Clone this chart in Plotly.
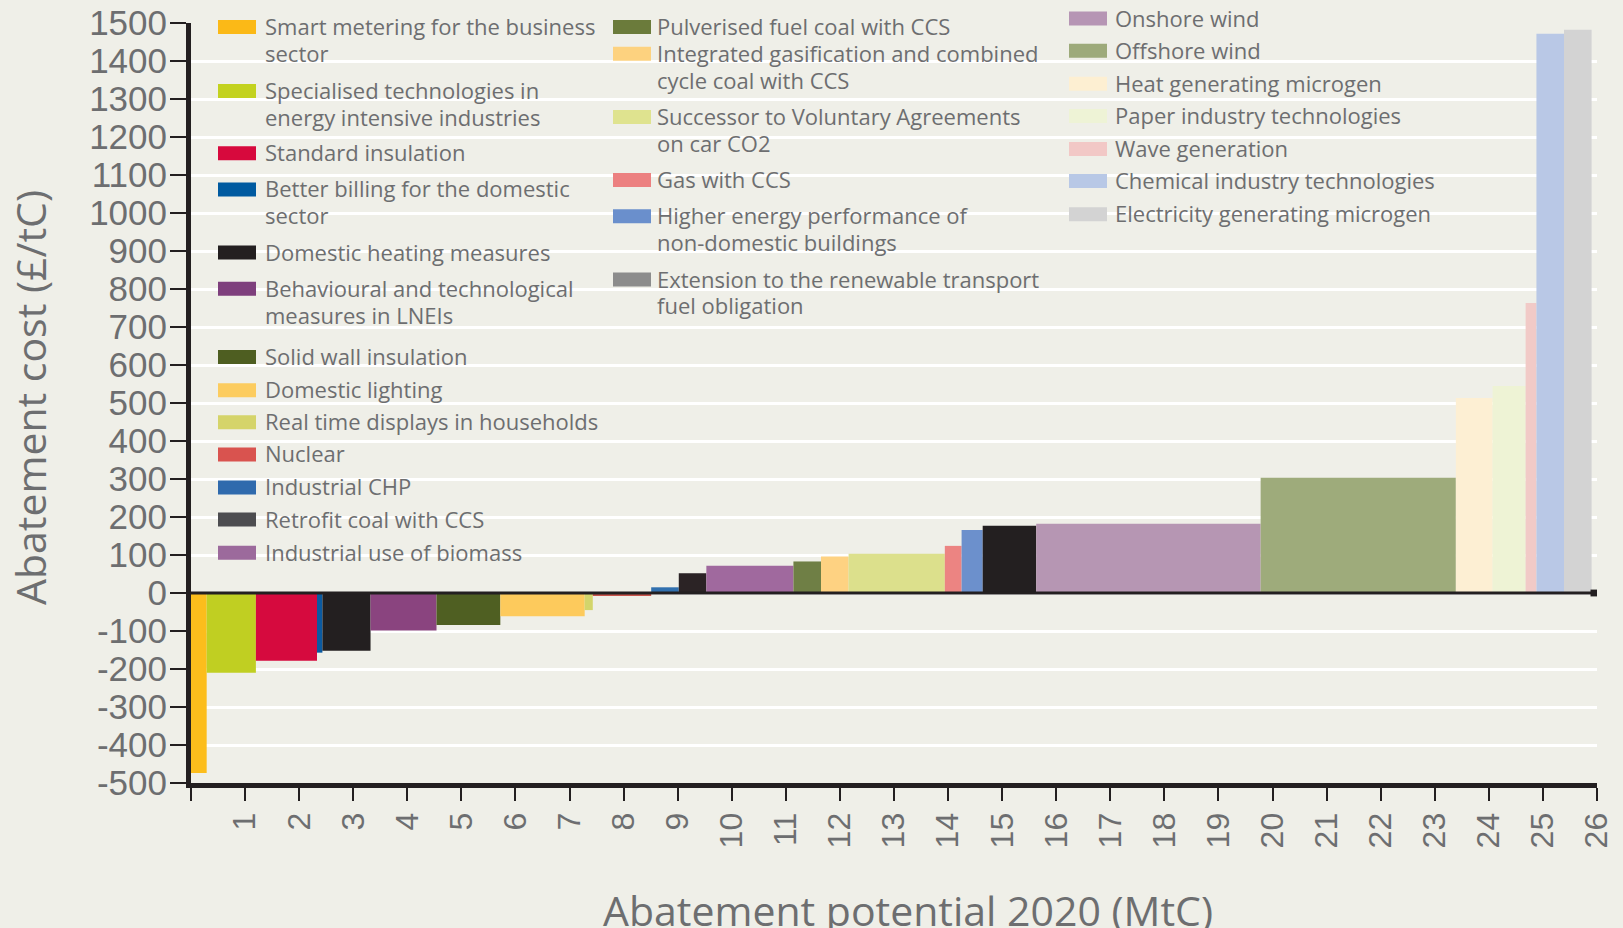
import numpy as np
import plotly.graph_objects as go

# ---------------- data ----------------
measures = [
    "Smart metering for the business<br>sector",
    "Specialised technologies in<br>energy intensive industries",
    "Standard insulation",
    "Better billing for the domestic<br>sector",
    "Domestic heating measures",
    "Behavioural and technological<br>measures in LNEIs",
    "Solid wall insulation",
    "Domestic lighting",
    "Real time displays in households",
    "Nuclear",
    "Industrial CHP",
    "Retrofit coal with CCS",
    "Industrial use of biomass",
    "Pulverised fuel coal with CCS",
    "Integrated gasification and combined<br>cycle coal with CCS",
    "Successor to Voluntary Agreements<br>on car CO2",
    "Gas with CCS",
    "Higher energy performance of<br>non-domestic buildings",
    "Extension to the renewable transport<br>fuel obligation",
    "Onshore wind",
    "Offshore wind",
    "Heat generating microgen",
    "Paper industry technologies",
    "Wave generation",
    "Chemical industry technologies",
    "Electricity generating microgen",
]
# abatement potential 2020 (MtC) = bar widths
potential = [0.29, 0.91, 1.13, 0.10, 0.89, 1.22, 1.18, 1.56, 0.15, 1.08,
             0.51, 0.51, 1.61, 0.51, 0.51, 1.78, 0.31, 0.39, 0.99, 4.15,
             3.61, 0.68, 0.61, 0.20, 0.51, 0.51]
# abatement cost (GBP/tC) = bar heights
cost = [-474, -210, -178, -157, -152, -99, -84, -61, -45, -8,
        15, 52, 72, 83, 96, 103, 124, 166, 177, 182,
        303, 513, 545, 763, 1472, 1482]

bar_colors = ["#fcbd1c", "#c0cf22", "#d60a3e", "#0b5aa0", "#231f20", "#8a447f",
              "#4f5f22", "#fdca5c", "#d3d56b", "#c9544c", "#3170ae", "#2b2325",
              "#a0699e", "#6f7f45", "#fed282", "#dce08c", "#ec8482", "#6c90cc",
              "#231f20", "#b696b3", "#9eab7b", "#fdefd3", "#eef3d5", "#f1cac7",
              "#b9c8e6", "#d3d3d3"]
legend_colors = ["#fbb917", "#c3d21f", "#d7093d", "#005aa0", "#231f20", "#7e3f7d",
                 "#4e5e21", "#fccc5f", "#d5d46a", "#d9534f", "#2f6aad", "#4d4d50",
                 "#9c6a9c", "#6b7b3b", "#fdd27f", "#dfe38f", "#ec8080", "#6a8fcc",
                 "#8c8c8c", "#b695b4", "#9daa7a", "#fdefd2", "#eef3d6", "#f2c8c6",
                 "#b8c8e6", "#d3d3d3"]

x_ticks = list(range(0, 27))
x_tick_labels = [""] + [str(i) for i in range(1, 27)]
y_ticks = list(range(-500, 1501, 100))
y_tick_labels = [str(v) for v in y_ticks]

# ---------------- layout constants ----------------
W, H = 1623, 928
L, R, T, B = 191, 26, 23, 145
PW, PH = W - L - R, H - T - B
BG = "#efefe8"
TXT = "#6d6e70"
INK = "#231f20"


def px2x(px):
    return (px - L) / PW


def px2y(py):
    return (H - B - py) / PH


# ---------------- bars ----------------
widths = np.array(potential)
lefts = np.concatenate([[0.0], np.cumsum(widths)[:-1]])
centers = lefts + widths / 2

fig = go.Figure()
fig.add_trace(go.Bar(
    x=centers, y=cost, width=widths,
    marker=dict(color=bar_colors, line=dict(width=0)),
    hovertext=[m.replace("<br>", " ") for m in measures],
    hoverinfo="text+y",
    showlegend=False,
))

shapes = []
annotations = []

# zero line and end marker
shapes.append(dict(type="line", xref="x", yref="y", x0=0, x1=26, y0=0, y1=0,
                   line=dict(color=INK, width=3), layer="above"))
shapes.append(dict(type="rect", xref="x", yref="y", x0=25.88, x1=26.03, y0=-9, y1=9,
                   fillcolor=INK, line=dict(width=0), layer="above"))

# ---------------- manual legend (3 columns) ----------------
DY = -1
columns = [
    dict(idx=list(range(0, 13)), sx=218, tx=263,
         ys=[26.9, 91.1, 153.2, 189.4, 252.6, 288.8, 357.1, 390.2, 422.3, 454.4, 487.5, 519.6, 552.7]),
    dict(idx=list(range(13, 19)), sx=613, tx=655,
         ys=[26.9, 53.8, 117.0, 180.1, 216.3, 279.5]),
    dict(idx=list(range(19, 26)), sx=1069, tx=1113,
         ys=[18.6, 50.7, 83.8, 115.9, 149.1, 181.1, 214.3]),
]
SW_W, SW_H, LINE_H = 38, 14, 26.9
for col in columns:
    for i, yc in zip(col["idx"], col["ys"]):
        y0 = yc + DY
        shapes.append(dict(type="rect", xref="paper", yref="paper",
                           x0=px2x(col["sx"]), x1=px2x(col["sx"] + SW_W),
                           y0=px2y(y0 + 1 + SW_H / 2), y1=px2y(y0 + 1 - SW_H / 2),
                           fillcolor=legend_colors[i], line=dict(width=0), layer="above"))
        for k, line in enumerate(measures[i].split("<br>")):
            annotations.append(dict(xref="paper", yref="paper",
                                    x=px2x(col["tx"]), y=px2y(y0 + k * LINE_H),
                                    xanchor="left", yanchor="middle", showarrow=False,
                                    text=line,
                                    font=dict(family="Open Sans", size=22, color=TXT)))

# axis titles
annotations.append(dict(xref="paper", yref="paper", x=px2x(908), y=px2y(910),
                        xanchor="center", yanchor="middle", showarrow=False,
                        text="Abatement potential 2020 (MtC)",
                        font=dict(family="Open Sans", size=41, color=TXT)))
annotations.append(dict(xref="paper", yref="paper", x=px2x(30), y=px2y(398),
                        xanchor="center", yanchor="middle", showarrow=False, textangle=-90,
                        text="Abatement cost (£/tC)",
                        font=dict(family="Open Sans", size=41, color=TXT)))

fig.update_layout(
    width=W, height=H, autosize=False,
    margin=dict(l=L, r=R, t=T, b=B, pad=0, autoexpand=False),
    paper_bgcolor=BG, plot_bgcolor=BG,
    shapes=shapes, annotations=annotations,
    showlegend=False,
    xaxis=dict(range=[0, 26], showgrid=False, zeroline=False, automargin=False,
               showline=True, linewidth=5, linecolor=INK,
               ticks="outside", ticklen=13, tickwidth=2, tickcolor=INK,
               tickvals=x_ticks, ticktext=x_tick_labels, tickangle=-90,
               tickfont=dict(family="Liberation Sans", size=32, color=TXT),
               ticklabelstandoff=-1, ticklabeloverflow="allow",
               layer="above traces"),
    yaxis=dict(range=[-500, 1500], showgrid=True, gridcolor="white", gridwidth=3,
               zeroline=False, automargin=False,
               showline=True, linewidth=5, linecolor=INK,
               ticks="outside", ticklen=16, tickwidth=2, tickcolor=INK,
               tickvals=y_ticks, ticktext=y_tick_labels,
               tickfont=dict(family="Liberation Sans", size=35, color=TXT),
               ticklabelstandoff=-4, ticklabeloverflow="allow",
               layer="above traces"),
)

fig.write_html(
    "out.html",
    config={"displayModeBar": False},
    post_script=(
        "document.documentElement.style.margin='0';"
        "document.documentElement.style.overflow='hidden';"
        "document.body.style.margin='0';document.body.style.padding='0';"
        "document.body.style.overflow='hidden';"
    ),
)
